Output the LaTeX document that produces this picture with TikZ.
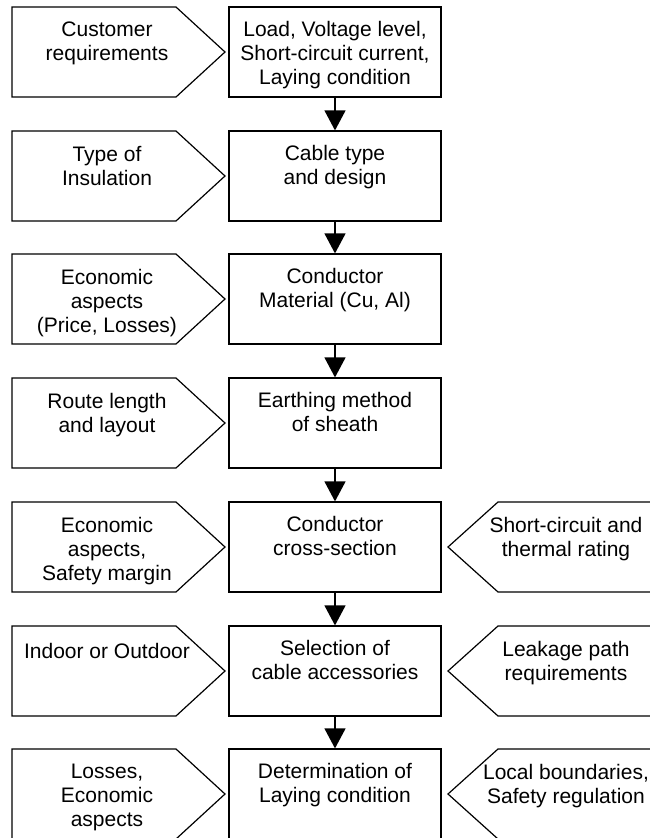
\documentclass[tikz,border=0pt]{standalone}
\usepackage{fontspec}
\setmainfont{Liberation Sans}
\usepackage{tikz}
\usetikzlibrary{positioning,arrows.meta}

\tikzset{
    cbox/.style={draw,rectangle,line width=1.2pt,minimum width=212pt,minimum height=90pt,inner sep=0pt},
    intxt/.style={anchor=north,align=center,inner sep=0pt,font=\fontsize{21}{24}\selectfont,execute at begin node=\strut},
    flow/.style={line width=1.2pt,-{Triangle[length=20pt,width=21pt]}},
    pent/.style={line width=1.2pt,line join=miter}
}

\begin{document}
\begin{tikzpicture}[x=1pt,y=-1pt]
    \useasboundingbox (0,0) rectangle (650,838);
    \clip (0,0) rectangle (650,838);

    % centre column
    \node[cbox] (c1) at (335,52) {};
    \node[cbox] (c2) at (335,176) {};
    \node[cbox] (c3) at (335,299) {};
    \node[cbox] (c4) at (335,423) {};
    \node[cbox] (c5) at (335,547) {};
    \node[cbox] (c6) at (335,671) {};
    \node[cbox] (c7) at (335,794) {};

    \node[intxt,below=15pt of c1.north] (tc1) {Load, Voltage level,\\Short-circuit current,\\Laying condition};
    \node[intxt,below=15pt of c2.north] (tc2) {Cable type\\and design};
    \node[intxt,below=15pt of c3.north] (tc3) {Conductor\\Material (Cu, Al)};
    \node[intxt,below=15pt of c4.north] (tc4) {Earthing method\\of sheath};
    \node[intxt,below=15pt of c5.north] (tc5) {Conductor\\cross-section};
    \node[intxt,below=15pt of c6.north] (tc6) {Selection of\\cable accessories};
    \node[intxt,below=15pt of c7.north] (tc7) {Determination of\\Laying condition};

    \draw[flow] (c1) -- (c2);
    \draw[flow] (c2) -- (c3);
    \draw[flow] (c3) -- (c4);
    \draw[flow] (c4) -- (c5);
    \draw[flow] (c5) -- (c6);
    \draw[flow] (c6) -- (c7);

    % left inputs
    \draw[pent] (12,7) -- (176,7) -- (225,52) -- (176,97) -- (12,97) -- cycle;
    \draw[pent] (12,131) -- (176,131) -- (225,176) -- (176,221) -- (12,221) -- cycle;
    \draw[pent] (12,254) -- (176,254) -- (225,299) -- (176,344) -- (12,344) -- cycle;
    \draw[pent] (12,378) -- (176,378) -- (225,423) -- (176,468) -- (12,468) -- cycle;
    \draw[pent] (12,502) -- (176,502) -- (225,547) -- (176,592) -- (12,592) -- cycle;
    \draw[pent] (12,626) -- (176,626) -- (225,671) -- (176,716) -- (12,716) -- cycle;
    \draw[pent] (12,749) -- (176,749) -- (225,794) -- (176,839) -- (12,839) -- cycle;

    \node[intxt] (tl1) at (107,22) {Customer\\requirements};
    \node[intxt] (tl2) at (107,146) {Type of\\Insulation};
    \node[intxt] (tl3) at (107,269) {Economic\\aspects\\(Price, Losses)};
    \node[intxt] (tl4) at (107,393) {Route length\\and layout};
    \node[intxt] (tl5) at (107,517) {Economic\\aspects,\\Safety margin};
    \node[intxt] (tl6) at (107,641) {Indoor or Outdoor};
    \node[intxt] (tl7) at (107,764) {Losses,\\Economic\\aspects};

    % right inputs
    \draw[pent] (665,502) -- (498,502) -- (448,547) -- (498,592) -- (665,592) -- cycle;
    \draw[pent] (665,626) -- (498,626) -- (448,671) -- (498,716) -- (665,716) -- cycle;
    \draw[pent] (665,749) -- (498,749) -- (448,794) -- (498,839) -- (665,839) -- cycle;

    \node[intxt] (tr5) at (566,517) {Short-circuit and\\thermal rating};
    \node[intxt] (tr6) at (566,641) {Leakage path\\requirements};
    \node[intxt] (tr7) at (566,764) {Local boundaries,\\Safety regulation};
\end{tikzpicture}
\end{document}
